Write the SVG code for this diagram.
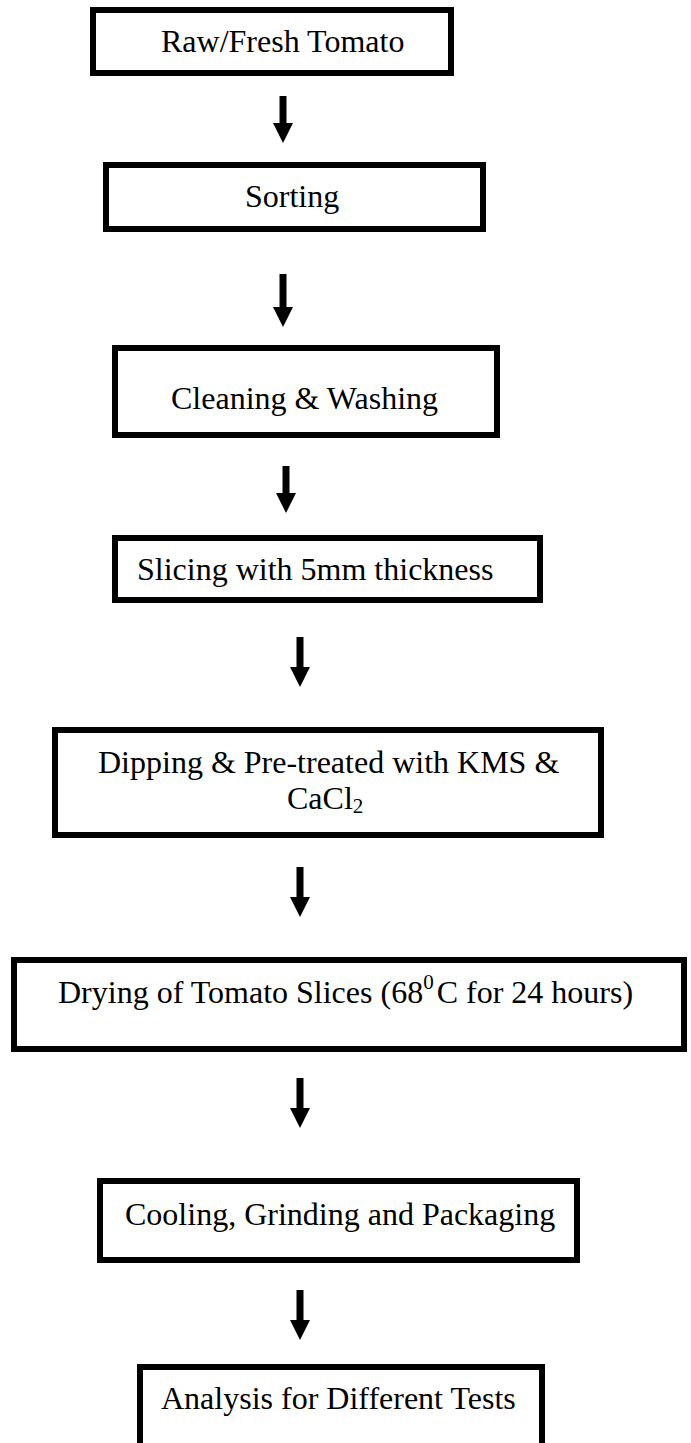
<svg xmlns="http://www.w3.org/2000/svg" width="691" height="1443" viewBox="0 0 691 1443">
<defs>
<style>
.box{fill:#fff;stroke:#000;stroke-width:6}
.lbl{font-family:"Liberation Serif","Times New Roman",serif;font-size:32px;fill:#000}
.sm{font-size:21px}
.arr{stroke:#000;stroke-width:7;fill:none;marker-end:url(#head)}
</style>
<marker id="head" markerUnits="userSpaceOnUse" markerWidth="20" markerHeight="20" refX="0" refY="10" orient="auto" viewBox="0 0 20 20">
<path d="M0,0 L20,10 L0,20 Z" fill="#000"/>
</marker>
</defs>
<rect width="691" height="1443" fill="#fff"/>
<g id="connectors">
<line class="arr" x1="283" y1="96" x2="283" y2="123"/>
<line class="arr" x1="283" y1="274" x2="283" y2="307"/>
<line class="arr" x1="286" y1="466" x2="286" y2="493"/>
<line class="arr" x1="300" y1="637" x2="300" y2="667"/>
<line class="arr" x1="300" y1="867" x2="300" y2="897"/>
<line class="arr" x1="300" y1="1078" x2="300" y2="1108"/>
<line class="arr" x1="300" y1="1290" x2="300" y2="1320"/>
</g>
<g id="n1"><rect class="box" x="93" y="10" width="358" height="63"/><text class="lbl" x="161" y="52">Raw/Fresh Tomato</text></g>
<g id="n2"><rect class="box" x="106" y="165" width="377" height="64"/><text class="lbl" x="245" y="207">Sorting</text></g>
<g id="n3"><rect class="box" x="115" y="348" width="382" height="87"/><text class="lbl" x="171" y="409">Cleaning &amp; Washing</text></g>
<g id="n4"><rect class="box" x="115" y="538" width="425" height="62"/><text class="lbl" x="137" y="580">Slicing with 5mm thickness</text></g>
<g id="n5"><rect class="box" x="55" y="730" width="546" height="105"/><text class="lbl" x="98" y="773">Dipping &amp; Pre-treated with KMS &amp;</text><text class="lbl" x="287" y="809">CaCl<tspan class="sm" dy="4">2</tspan></text></g>
<g id="n6"><rect class="box" x="14" y="960" width="670" height="89"/><text class="lbl" x="58" y="1003">Drying of Tomato Slices (68<tspan class="sm" dy="-14">0</tspan><tspan dy="14" dx="3">C for 24 hours)</tspan></text></g>
<g id="n7"><rect class="box" x="100" y="1181" width="477" height="79"/><text class="lbl" x="125" y="1225">Cooling, Grinding and Packaging</text></g>
<g id="n8"><rect class="box" x="140" y="1367" width="402" height="100"/><text class="lbl" x="161" y="1409">Analysis for Different Tests</text></g>
</svg>
